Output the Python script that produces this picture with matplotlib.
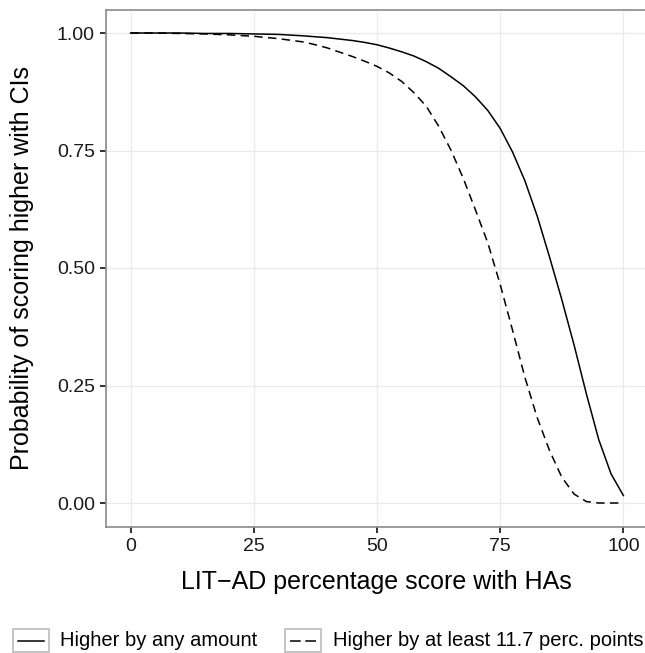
import matplotlib
matplotlib.use("Agg")
from matplotlib import pyplot as plt
from matplotlib.lines import Line2D
from matplotlib.patches import Rectangle

plt.rcParams['font.family'] = ['Liberation Sans', 'DejaVu Sans']

# LIT-AD percentage score with hearing aids
score = [0, 5, 10, 15, 20, 25, 30, 35, 37.5, 40, 42.5, 45, 47.5, 50, 52.5, 55, 57.5,
         60, 62.5, 65, 67.5, 70, 72.5, 75, 77.5, 80, 82.5, 85, 87.5, 90, 92.5, 95,
         97.5, 100]
# probability of scoring higher with CIs
p_any = [1.0, 1.0, 1.0, 0.999, 0.999, 0.998, 0.997, 0.994, 0.992, 0.990, 0.987, 0.984,
         0.980, 0.975, 0.968, 0.960, 0.951, 0.939, 0.925, 0.907, 0.888, 0.864, 0.835,
         0.797, 0.747, 0.686, 0.611, 0.524, 0.433, 0.336, 0.232, 0.135, 0.062, 0.016]
p_11_7 = [1.0, 1.0, 0.999, 0.998, 0.996, 0.993, 0.988, 0.981, 0.975, 0.968, 0.959, 0.950,
          0.940, 0.929, 0.915, 0.897, 0.873, 0.844, 0.802, 0.751, 0.691, 0.623, 0.553,
          0.465, 0.368, 0.268, 0.182, 0.112, 0.055, 0.019, 0.003, 0.0, 0.0, 0.0]
labels = ['Higher by any amount', 'Higher by at least 11.7 perc. points']

DASH = (0, (5.5, 3.5))
W, H = 645, 653
fig = plt.figure(figsize=(W / 100, H / 100), dpi=100)
ax = fig.add_axes([106 / W, 1 - 526.5 / H, 542 / W, 517 / H])

ax.plot(score, p_any, color='black', lw=1.1, linestyle='-')
ax.plot(score, p_11_7, color='black', lw=1.1, linestyle=DASH)

ax.set_xlim(-5, 105)
ax.set_ylim(-0.05, 1.05)
ax.set_xticks([0, 25, 50, 75, 100])
ax.set_yticks([0, 0.25, 0.5, 0.75, 1.0])
ax.set_yticklabels(['0.00', '0.25', '0.50', '0.75', '1.00'])
ax.grid(True, color='#ebebeb', lw=1.0)
ax.set_axisbelow(True)
for s in ax.spines.values():
    s.set_color('#8a8a8a')
    s.set_linewidth(1.2)
ax.tick_params(length=4, width=1.3, color='#222222', labelsize=14,
               labelcolor='#1a1a1a', pad=4)

ax.set_xlabel('LIT\u2212AD percentage score with HAs', fontsize=18)
ax.xaxis.set_label_coords((376.5 - 106) / 542, -(582 - 526.5) / 517)
ax.xaxis.label.set_va('center')
ax.set_ylabel('Probability of scoring higher with CIs', fontsize=18)
ax.yaxis.set_label_coords(-(106 - 22) / 542, 0.5)
ax.yaxis.label.set_va('center')

# legend at bottom, keys boxed like ggplot
keys = [(12.5, 60, '-'), (285, 333, (0, (7, 3)))]
for (kx, tx, ls), lab in zip(keys, labels):
    fig.add_artist(Rectangle((kx / W, 1 - 652 / H), 36 / W, 23 / H, transform=fig.transFigure,
                             facecolor='white', edgecolor='#c0c0c0', lw=1.3))
    fig.add_artist(Line2D([(kx + 5) / W, (kx + 31) / W], [1 - 640.5 / H] * 2,
                          transform=fig.transFigure, color='black', lw=1.1, linestyle=ls))
    fig.text(tx / W, 1 - 641 / H, lab, fontsize=14.5, va='center', ha='left')

plt.savefig('out.png', dpi=100)
